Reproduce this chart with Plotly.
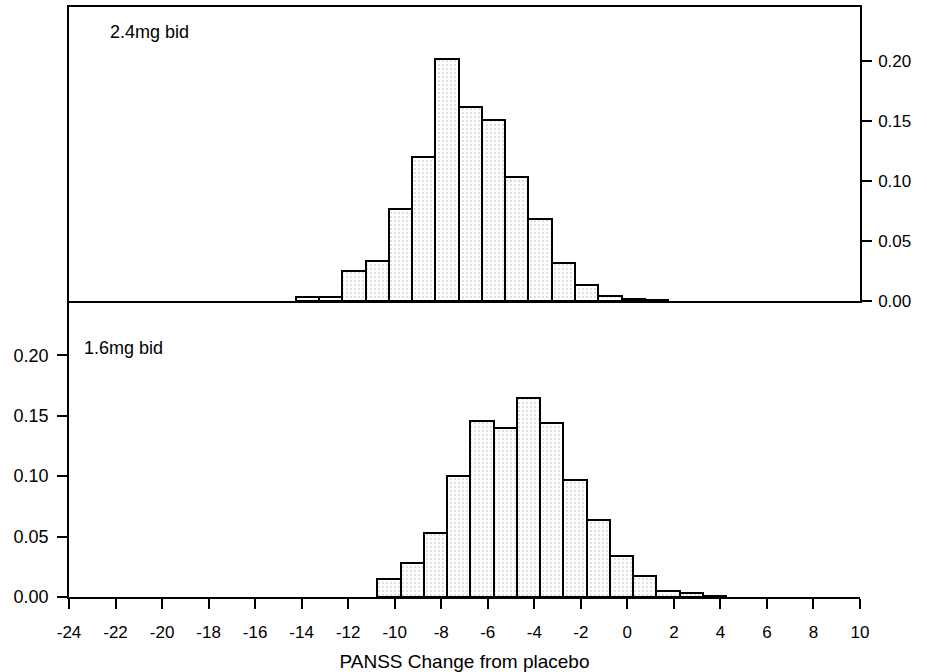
import plotly.graph_objects as go
from plotly.subplots import make_subplots

# ---- data ----
top_label = "2.4mg bid"
bottom_label = "1.6mg bid"
x_title = "PANSS Change from placebo"

top_centers = [-13.75, -12.75, -11.75, -10.75, -9.75, -8.75, -7.75, -6.75,
               -5.75, -4.75, -3.75, -2.75, -1.75, -0.75, 0.25, 1.25]
top_values = [0.003, 0.003, 0.025, 0.033, 0.077, 0.120, 0.202, 0.162,
              0.151, 0.103, 0.068, 0.032, 0.013, 0.004, 0.002, 0.001]

bottom_centers = [-10.25, -9.25, -8.25, -7.25, -6.25, -5.25, -4.25, -3.25,
                  -2.25, -1.25, -0.25, 0.75, 1.75, 2.75, 3.75]
bottom_values = [0.015, 0.028, 0.053, 0.100, 0.146, 0.140, 0.165, 0.144,
                 0.097, 0.064, 0.034, 0.017, 0.005, 0.003, 0.001]

x_ticks = list(range(-24, 11, 2))
x_ticktext = [str(v) for v in x_ticks]  # plain hyphen-minus as in the reference
y_ticks = [0.00, 0.05, 0.10, 0.15, 0.20]
y_ticktext = ["0.00", "0.05", "0.10", "0.15", "0.20"]

FONT = "Liberation Sans, Arial, sans-serif"

fig = make_subplots(rows=2, cols=1, shared_xaxes=False, vertical_spacing=0,
                    row_heights=[0.5, 0.5])

bar_style = dict(
    width=1.0,
    marker=dict(color="white",
                line=dict(color="black", width=2),
                pattern=dict(shape=".", fgcolor="#a8a8a8", bgcolor="white",
                             size=4, solidity=0.18)),
    showlegend=False,
)

fig.add_trace(go.Bar(x=top_centers, y=top_values, **bar_style), row=1, col=1)
fig.add_trace(go.Bar(x=bottom_centers, y=bottom_values, **bar_style), row=2, col=1)

split = 0.5017
fig.update_layout(
    width=927, height=672,
    margin=dict(l=69, r=67, t=7, b=75),
    paper_bgcolor="white", plot_bgcolor="white",
    bargap=0,
    font=dict(family=FONT, color="black", size=16),
    xaxis=dict(domain=[0, 1], anchor="y", range=[-24, 10], automargin=False,
               showline=True, linecolor="black", linewidth=1.5, mirror=True,
               showticklabels=False, ticks="", showgrid=False, zeroline=False),
    yaxis=dict(domain=[split, 1], anchor="x", range=[0, 0.245], side="right",
               automargin=False,
               showline=True, linecolor="black", linewidth=1.5, mirror=True,
               ticks="outside", ticklen=10, tickwidth=1.5, tickcolor="black",
               tickvals=y_ticks, ticktext=y_ticktext, ticklabelstandoff=3,
               tickfont=dict(size=17), showgrid=False, zeroline=False),
    xaxis2=dict(domain=[0, 1], anchor="y2", range=[-24, 10], automargin=False,
                showline=True, linecolor="black", linewidth=1.5,
                ticks="outside", ticklen=10, tickwidth=1.5, tickcolor="black",
                tickvals=x_ticks, ticktext=x_ticktext, ticklabelstandoff=9,
                tickfont=dict(size=17),
                title=dict(text=x_title, font=dict(size=19), standoff=16),
                showgrid=False, zeroline=False),
    yaxis2=dict(domain=[0, split], anchor="x2", range=[0, 0.245],
                automargin=False,
                showline=True, linecolor="black", linewidth=1.5,
                ticks="outside", ticklen=10, tickwidth=1.5, tickcolor="black",
                tickvals=y_ticks, ticktext=y_ticktext, ticklabelstandoff=5,
                tickfont=dict(size=18), showgrid=False, zeroline=False),
)

fig.add_annotation(text=top_label, xref="x domain", yref="y domain",
                   x=0.049, y=0.915, xanchor="left", yanchor="middle",
                   showarrow=False, font=dict(size=18))
fig.add_annotation(text=bottom_label, xref="x2 domain", yref="y2 domain",
                   x=0.016, y=0.84, xanchor="left", yanchor="middle",
                   showarrow=False, font=dict(size=18))

fig.write_html("out.html")
